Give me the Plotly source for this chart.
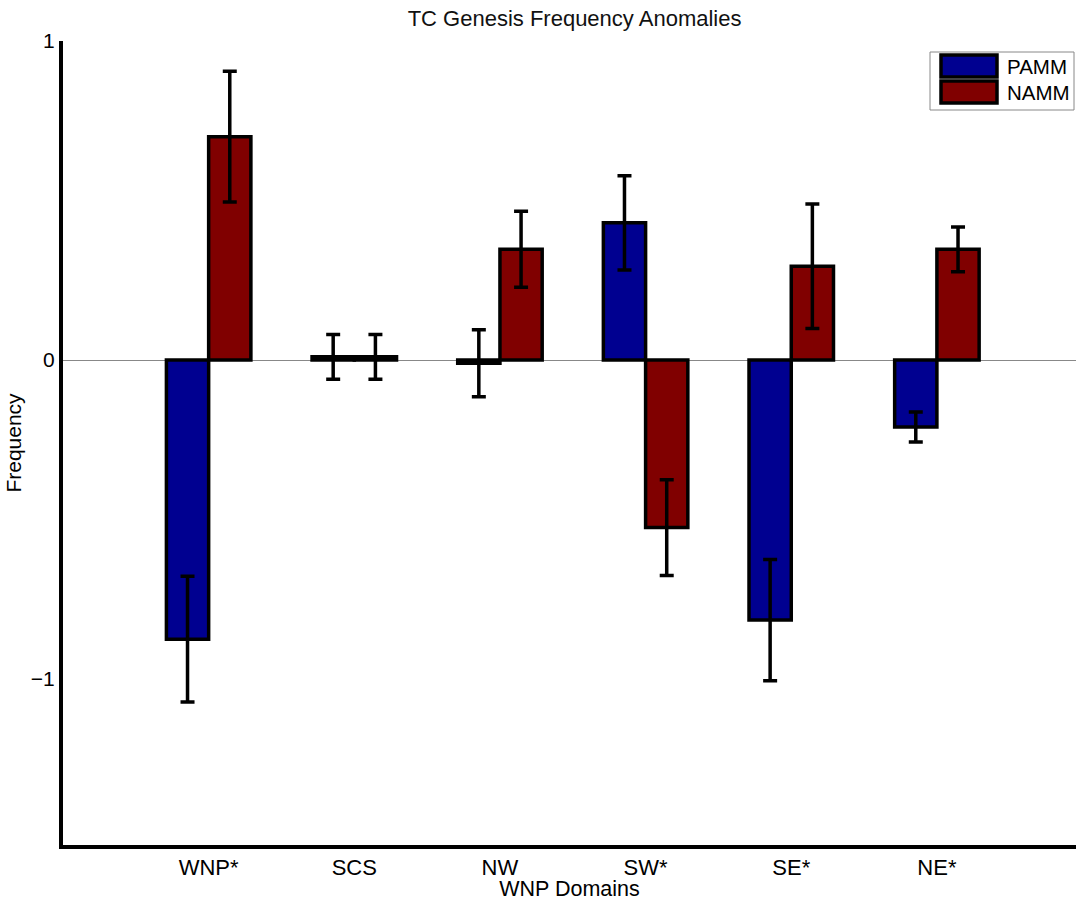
import plotly.graph_objects as go

categories = ["WNP*", "SCS", "NW", "SW*", "SE*", "NE*"]
pamm = [-0.875, 0.01, -0.01, 0.43, -0.815, -0.21]
pamm_err = [0.197, 0.07, 0.105, 0.148, 0.19, 0.047]
namm = [0.70, 0.01, 0.347, -0.525, 0.294, 0.347]
namm_err = [0.205, 0.07, 0.119, 0.15, 0.195, 0.07]
series_names = ["PAMM", "NAMM"]
series_colors = ["#000090", "#800000"]

xpos = list(range(1, len(categories) + 1))

fig = go.Figure()
for name, vals, errs, col in zip(series_names, [pamm, namm], [pamm_err, namm_err], series_colors):
    fig.add_trace(go.Bar(
        x=xpos, y=vals, name=name, showlegend=False,
        marker=dict(color=col, line=dict(color="black", width=3.5)),
        error_y=dict(type="data", array=errs, visible=True, color="black", thickness=3.5, width=7),
    ))

# plot-area pixel geometry (for the hand-drawn legend)
L, R, T, B = 63, 1076, 41, 845
def px(x):
    return (x - L) / (R - L)
def py(y):
    return (B - y) / (B - T)

shapes = [dict(type="rect", xref="paper", yref="paper",
               x0=px(930), x1=px(1074), y0=py(110), y1=py(52),
               line=dict(color="#888", width=1), fillcolor="white", layer="above")]
annotations = []
for i, (name, col) in enumerate(zip(series_names, series_colors)):
    top = 55 + i * 26
    shapes.append(dict(type="rect", xref="paper", yref="paper",
                       x0=px(941), x1=px(997), y0=py(top + 22), y1=py(top),
                       line=dict(color="black", width=3.5), fillcolor=col, layer="above"))
    annotations.append(dict(text=name, xref="paper", yref="paper", x=px(1005), y=py(top + 11),
                            xanchor="left", yanchor="middle", showarrow=False,
                            font=dict(size=20.5, color="black")))

font = "Liberation Sans, Arial, sans-serif"
fig.update_layout(
    width=1076, height=901,
    margin=dict(l=L, r=1076 - R, t=T, b=901 - B),
    paper_bgcolor="white", plot_bgcolor="white",
    barmode="group", bargap=0.42, bargroupgap=0,
    font=dict(family=font, size=20, color="black"),
    title=dict(text="TC Genesis Frequency Anomalies", x=0.505, xref="paper", xanchor="center",
               y=0.98, yanchor="middle", font=dict(size=22, color="#111")),
    xaxis=dict(range=[0.0, 6.955], tickvals=xpos, ticktext=categories,
               showgrid=False, zeroline=False, showline=True, linecolor="black",
               linewidth=4, ticks="", automargin=False,
               title=dict(text="WNP Domains", standoff=6, font=dict(size=21.5)),
               tickfont=dict(size=22)),
    yaxis=dict(range=[-1.52, 1.0], tickvals=[-1, 0, 1], ticktext=["\u22121", "0", "1"],
               showgrid=False, zeroline=True, zerolinecolor="#888", zerolinewidth=1,
               showline=True, linecolor="black", linewidth=4, ticks="", automargin=False,
               title=dict(text="Frequency", standoff=4, font=dict(size=21)),
               tickfont=dict(size=21)),
    shapes=shapes,
    annotations=annotations,
    showlegend=False,
)

fig.write_html("out.html")
